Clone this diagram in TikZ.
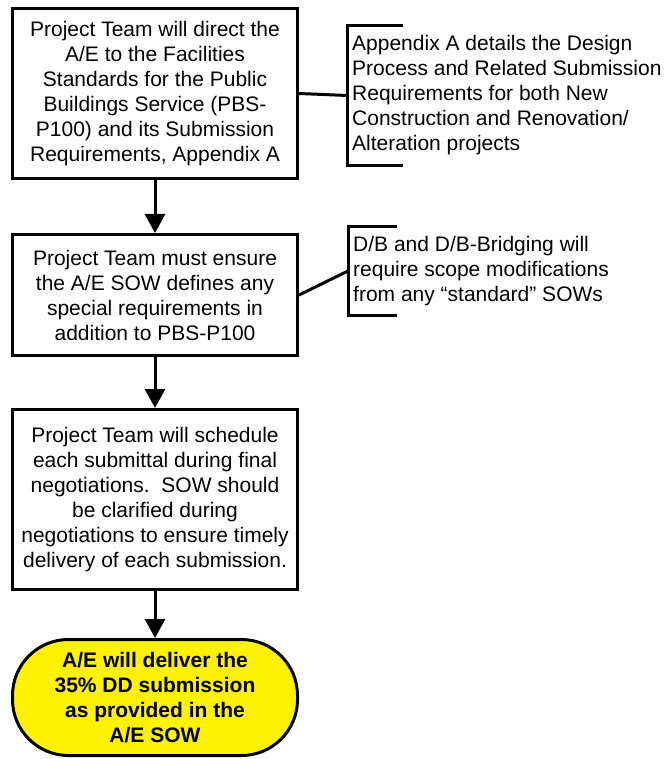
\documentclass[tikz,border=0pt]{standalone}
\usepackage{fontspec}
\setmainfont{Liberation Sans}
\usetikzlibrary{arrows.meta}
\begin{document}
\begin{tikzpicture}[x=1pt,y=-1pt,
  box/.style={draw, line width=3pt, minimum width=285pt, align=center, inner sep=0pt,
    font=\fontsize{21}{25}\selectfont},
  termbox/.style={box, fill=yellow, rounded corners=56pt, font=\fontsize{21}{25}\selectfont\bfseries},
  note/.style={anchor=west, align=left, inner xsep=5pt, inner ysep=0pt,
    font=\fontsize{21}{25}\selectfont},
  conn/.style={line width=3pt},
  flow/.style={line width=3pt, -{Triangle[width=20pt,length=19pt]}}]
\useasboundingbox (0,0) rectangle (671,759);

\node[box, minimum height=170pt] (b1) at (155,93.5)
  {Project Team will direct the\\A/E to the Facilities\\Standards for the Public\\Buildings Service (PBS-\\P100) and its Submission\\Requirements, Appendix A};
\node[box, minimum height=121pt] (b2) at (155,295)
  {Project Team must ensure\\the A/E SOW defines any\\special requirements in\\addition to PBS-P100};
\node[box, minimum height=180pt] (b3) at (155,499.5)
  {Project Team will schedule\\each submittal during final\\negotiations.\ \ SOW should\\be clarified during\\negotiations to ensure timely\\delivery of each submission.};
\node[termbox, minimum height=116pt] (e) at (155,697.5)
  {A/E will deliver the\\35\% DD submission\\as provided in the\\A/E SOW};

\node[note, minimum height=139pt] (a1) at (347,95.5)
  {Appendix A details the Design\\Process and Related Submission\\Requirements for both New\\Construction and Renovation/\\Alteration projects};
\node[note, minimum height=88pt] (a2) at (348,271)
  {D/B and D/B-Bridging will\\require scope modifications\\from any “standard” SOWs};

\draw[conn] ([xshift=56pt]a1.north west) -- (a1.north west) -- (a1.south west) -- ([xshift=56pt]a1.south west);
\draw[conn] ([xshift=49pt]a2.north west) -- (a2.north west) -- (a2.south west) -- ([xshift=49pt]a2.south west);
\draw[conn] (b1.east) -- (a1.west);
\draw[conn] (b2.east) -- (a2.west);

\draw[flow] (b1.south) -- (b2.north);
\draw[flow] (b2.south) -- (b3.north);
\draw[flow] (b3.south) -- (e.north);
\end{tikzpicture}
\end{document}
